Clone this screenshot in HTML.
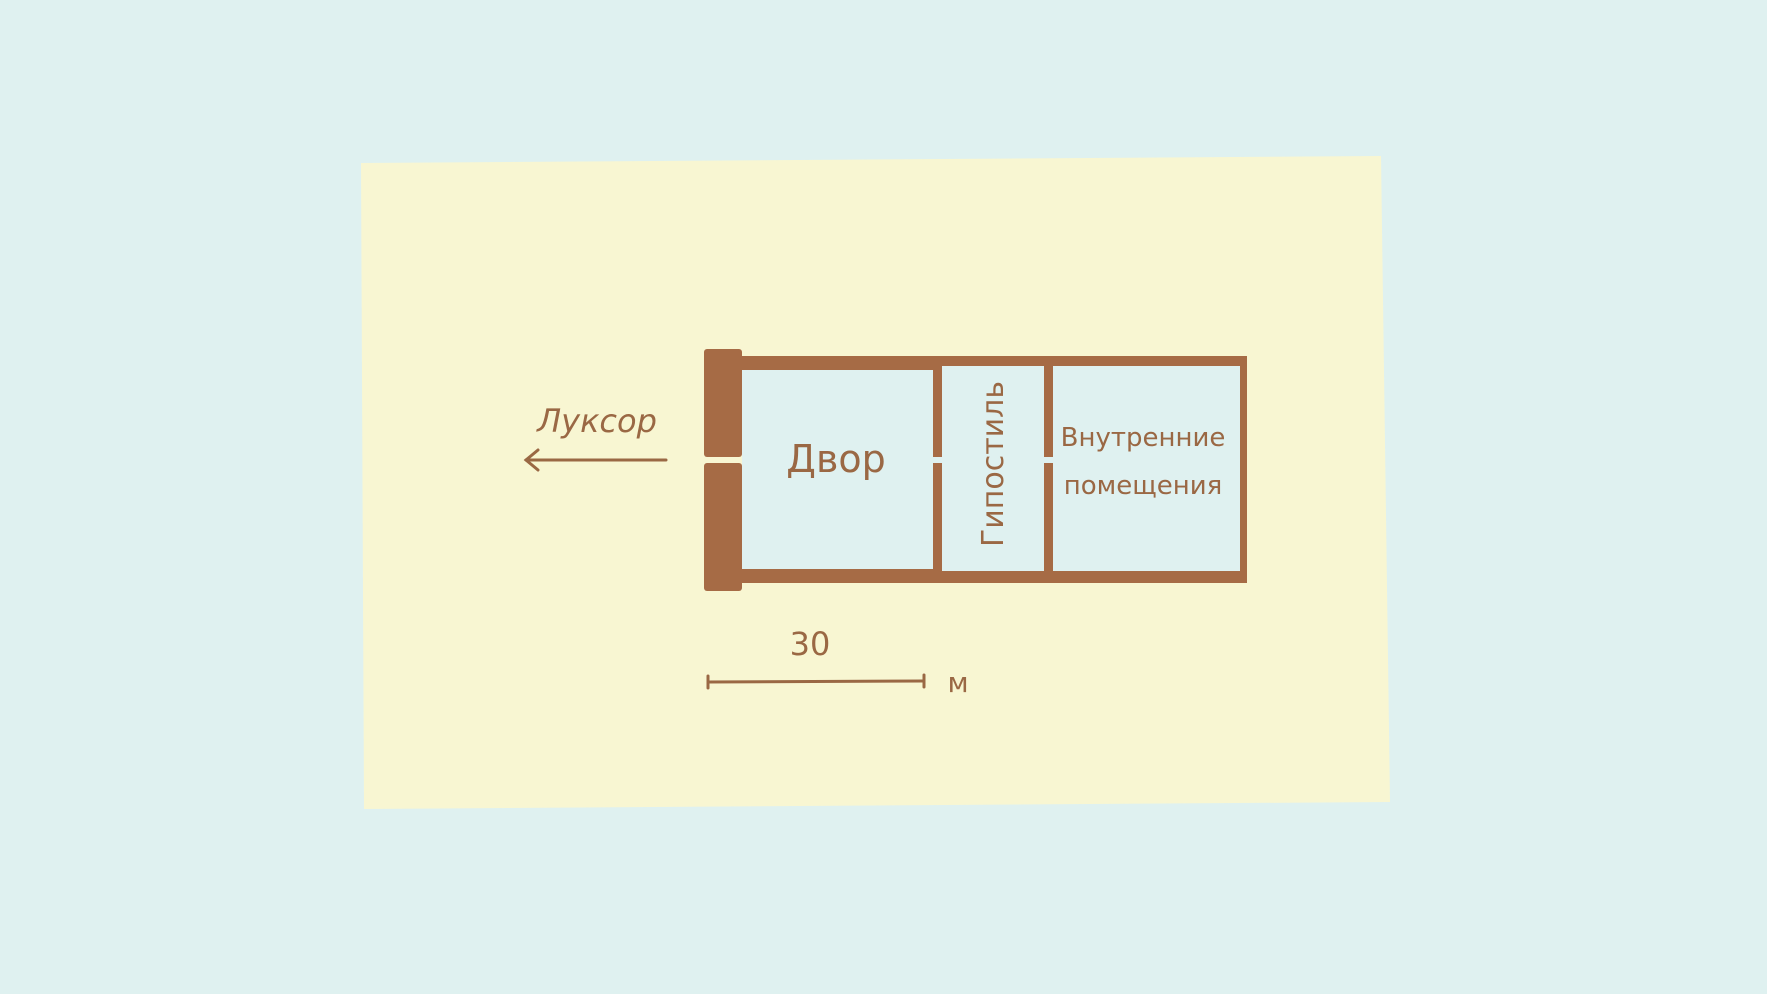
<!DOCTYPE html>
<html><head><meta charset="utf-8"><style>
html,body{margin:0;padding:0;background:#dff1f0;}
svg{display:block}
text{font-family:"DejaVu Sans","Liberation Sans",sans-serif;fill:#9a6844}
</style></head><body>
<svg width="1767" height="994" viewBox="0 0 1767 994" xmlns="http://www.w3.org/2000/svg">
<rect width="1767" height="994" fill="#dff1f0"/>
<polygon points="361,163 1381,156 1390,802 364,809" fill="#f8f6d2"/>
<rect x="742" y="366" width="500" height="210" fill="#dff1f0"/>
<g fill="#a66b45">
<rect x="735" y="356" width="511" height="10"/>
<rect x="742" y="356" width="195" height="14"/>
<rect x="735" y="571" width="511" height="12"/>
<rect x="742" y="569" width="195" height="14"/>
<rect x="1240" y="356" width="7" height="227"/>
<rect x="704" y="349" width="38" height="108" rx="3"/>
<rect x="704" y="463" width="38" height="128" rx="3"/>
<rect x="933" y="356" width="9" height="101"/>
<rect x="933" y="463" width="9" height="115"/>
<rect x="1044" y="356" width="9" height="101"/>
<rect x="1044" y="463" width="9" height="115"/>
</g>
<text x="836" y="472" font-size="38" text-anchor="middle">Двор</text>
<text transform="translate(1003,464) rotate(-90)" font-size="30" text-anchor="middle">Гипостиль</text>
<text x="1143" y="446" font-size="26" text-anchor="middle">Внутренние</text>
<text x="1143" y="494" font-size="26" text-anchor="middle">помещения</text>
<text x="597" y="432" font-size="32" font-style="italic" text-anchor="middle">Луксор</text>
<g stroke="#9a6844" stroke-width="3" fill="none" stroke-linecap="round">
<line x1="526" y1="460" x2="666" y2="460"/>
<polyline points="538,450 526,460 538,470"/>
<line x1="708" y1="682" x2="924" y2="681"/>
<line x1="708" y1="676" x2="708" y2="688"/>
<line x1="924" y1="675" x2="924" y2="687"/>
</g>
<text x="810" y="655" font-size="32" text-anchor="middle">30</text>
<text x="958" y="692" font-size="28" text-anchor="middle">м</text>
</svg>
</body></html>
